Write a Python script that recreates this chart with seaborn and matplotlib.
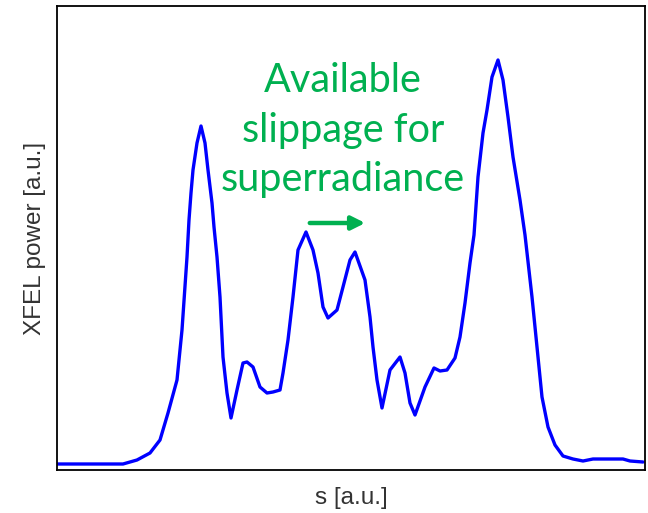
import matplotlib
matplotlib.use("Agg")
import matplotlib.pyplot as plt
import seaborn as sns
import pandas as pd

s = [0, 66, 80, 93, 103, 111, 120, 125, 130, 132, 134, 136, 140, 144, 148, 151, 155, 157, 160, 163,
     166, 170, 174, 180, 186, 190, 196, 203, 210, 216, 223, 226, 231, 236, 241, 249, 256, 261, 266, 271,
     280, 286, 293, 298, 308, 313, 316, 320, 325, 333, 343, 348, 353, 358, 368, 377, 383, 390, 398, 403,
     408, 413, 417, 421, 426, 430, 435, 441, 446, 451, 456, 463, 468, 475, 480, 485, 491, 498, 506, 516,
     526, 536, 566, 573, 586]
power = [6, 6, 10, 17, 30, 57, 90, 140, 213, 250, 277, 300, 327, 344, 327, 300, 267, 243, 213, 173,
         113, 77, 52, 80, 107, 108, 103, 83, 77, 78, 80, 97, 130, 173, 220, 238, 220, 197, 163, 152,
         160, 183, 210, 218, 190, 153, 123, 90, 62, 100, 113, 97, 67, 55, 83, 102, 99, 100, 112, 133,
         167, 207, 235, 293, 337, 360, 393, 410, 390, 353, 313, 270, 235, 173, 123, 73, 43, 25, 14, 11,
         9, 11, 11, 9, 8]

annotation = "Available\nslippage for\nsuperradiance"
xlabel = "s [a.u.]"
ylabel = "XFEL power [a.u.]"

df = pd.DataFrame({"s": s, "power": power})

sns.set_style("white")
plt.rcParams["font.family"] = ["Liberation Sans", "DejaVu Sans"]

fig = plt.figure(figsize=(6.48, 5.13), dpi=100)
ax = fig.add_axes([57/648, 43/513, 588/648, 464/513])
sns.lineplot(data=df, x="s", y="power", color="#0000ff", lw=2.4, ax=ax, sort=False)
ax.set_xlim(0, 588)
ax.set_ylim(0, 464)
ax.set_xticks([])
ax.set_yticks([])
ax.set_xlabel(xlabel, fontsize=17.5, color="#333333", labelpad=12)
ax.set_ylabel(ylabel, fontsize=17.5, color="#333333", labelpad=8)
for sp in ax.spines.values():
    sp.set_color("black")
    sp.set_linewidth(1.3)

green = "#00b050"
ax.text(286, 340, annotation, ha="center", va="center", fontsize=28.5, color=green,
        family=["Lato", "DejaVu Sans"], linespacing=1.42)
ax.annotate("", xy=(311, 247), xytext=(250, 247),
            arrowprops=dict(arrowstyle="-|>", color=green, lw=3.2, mutation_scale=20))

fig.savefig("out.png", dpi=100)
